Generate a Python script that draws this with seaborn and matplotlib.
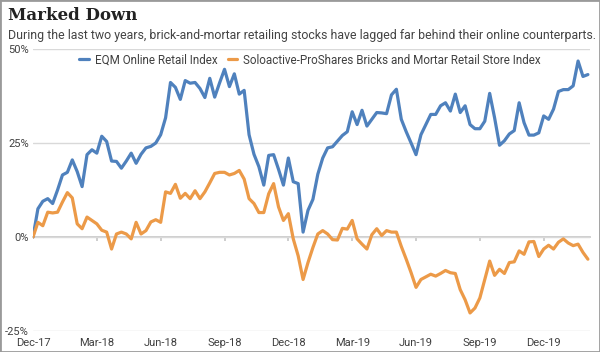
import pandas as pd
import matplotlib
matplotlib.use("Agg")
import matplotlib.pyplot as plt
import seaborn as sns
from matplotlib.patches import Rectangle

# weekly closes, % change since the end of Dec-17
dates = pd.date_range("2017-12-29", periods=114, freq="W-FRI")

online = [
    0, 7.5, 9.5, 10.2, 8.9, 12.5, 16.5, 17.2, 20.5, 17.4,
    13.4, 21.9, 23.2, 22.3, 26.8, 25.4, 20.2, 20.1, 18.3, 20.2,
    22.3, 19.6, 22.0, 23.7, 24.1, 25.0, 27.2, 31.7, 41.1, 39.8,
    36.6, 41.6, 40.9, 41.1, 39.5, 37.1, 42.2, 37.2, 41.0, 44.6,
    40.0, 43.4, 38.0, 39.0, 27.2, 22.0, 18.7, 13.8, 21.7, 21.9,
    18.0, 13.8, 21.0, 14.7, 14.2, 1.3, 7.1, 10.0, 16.7, 21.0,
    23.7, 24.0, 25.5, 27.0, 28.0, 33.3, 29.9, 33.7, 29.5, 31.3,
    33.1, 33.0, 32.8, 37.8, 39.3, 31.3, 28.0, 25.0, 21.9, 27.2,
    29.9, 32.6, 32.6, 34.9, 35.7, 33.5, 38.0, 33.1, 34.9, 29.9,
    28.8, 28.8, 30.8, 38.2, 31.7, 24.4, 25.6, 27.4, 28.3, 35.7,
    30.4, 27.1, 27.1, 27.7, 32.2, 31.3, 34.0, 38.7, 39.2, 39.2,
    40.2, 46.8, 42.7, 43.2,
]

bricks = [
    0, 3.9, 3.0, 6.6, 6.4, 6.6, 9.3, 11.8, 10.4, 3.5,
    2.2, 5.3, 4.4, 3.5, 1.8, 1.3, -3.2, 0.8, 1.3, 0.8,
    -0.5, 3.9, 0.8, 1.7, 4.0, 4.6, 3.9, 12.0, 11.6, 14.0,
    10.3, 11.6, 10.2, 12.3, 10.2, 12.0, 14.4, 16.9, 17.2, 17.2,
    16.5, 16.9, 17.7, 15.4, 10.2, 8.9, 6.5, 6.5, 11.5, 14.2,
    8.0, 4.4, 6.2, -0.5, -5.0, -11.3, -6.8, -2.8, 0.8, 1.7,
    0.8, -0.7, -0.8, 2.3, 2.1, 4.4, -0.5, -1.9, -3.2, 0.6,
    2.2, 0.4, 1.7, 1.3, 1.3, -2.5, -5.9, -9.5, -13.4, -11.3,
    -10.6, -9.9, -10.4, -9.7, -8.9, -9.5, -9.7, -14.0, -16.7, -20.2,
    -18.9, -16.2, -11.3, -6.4, -10.2, -8.6, -9.7, -6.8, -6.6, -3.7,
    -4.6, -1.3, -1.2, -5.2, -3.2, -2.2, -3.2, -1.4, -0.5, -1.6,
    -2.3, -1.9, -4.1, -5.9,
]

series_names = [
    "EQM Online Retail Index",
    "Soloactive-ProShares Bricks and Mortar Retail Store Index",
]
y_ticks = [-25, 0, 25, 50]
y_labels = ["-25%", "0%", "25%", "50%"]
tick_dates = dates[::13]
x_labels = [d.strftime("%b-%y") for d in tick_dates]

title = "Marked Down"
subtitle = ("During the last two years, brick-and-mortar retailing stocks "
            "have lagged far behind their online counterparts.")

df = pd.DataFrame({
    "date": list(dates) * 2,
    "value": online + bricks,
    "series": [series_names[0]] * len(online) + [series_names[1]] * len(bricks),
})

sns.set_theme(style="white")
plt.rcParams["font.family"] = ["Roboto", "DejaVu Sans"]

W, H = 600, 352
fig = plt.figure(figsize=(W / 100, H / 100), dpi=100)
ax = fig.add_axes([33 / W, 1 - 331 / H, 557 / W, 282 / H])

sns.lineplot(
    data=df, x="date", y="value", hue="series",
    palette=["#4f81bd", "#ec9a48"], linewidth=2.3, ax=ax,
)

ax.set_ylim(-25, 50)
ax.set_xlim(dates[0], dates[-1] + pd.Timedelta(days=3))
ax.set_yticks(y_ticks)
ax.set_yticklabels(y_labels)
ax.set_xticks(tick_dates)
ax.set_xticklabels(x_labels)
ax.set_xlabel("")
ax.set_ylabel("")
for s in ax.spines.values():
    s.set_visible(False)
ax.grid(axis="y", color="#d9d9d9", lw=1)
ax.grid(axis="x", visible=False)
ax.tick_params(length=0, labelsize=8, colors="#404040")
ax.tick_params(axis="y", pad=3)
ax.tick_params(axis="x", pad=5)

# zero line with small quarterly ticks
zero = ax.secondary_xaxis((0 - y_ticks[0]) / (y_ticks[-1] - y_ticks[0]))
zero.set_xticks(tick_dates[1:])
zero.xaxis.set_ticks_position("bottom")
zero.tick_params(direction="out", length=3, color="#c8c8c8",
                 labelbottom=False, labeltop=False)
for s in zero.spines.values():
    s.set_color("#c8c8c8")

ax.legend(
    loc="center", bbox_to_anchor=(310 / W, 1 - 60 / H),
    bbox_transform=fig.transFigure, ncol=2, frameon=False,
    handlelength=0.8, handletextpad=0.5, columnspacing=0.9,
    fontsize=8.4, labelcolor="#404040",
)

fig.text(8 / W, 1 - 16 / H, title, fontsize=12, fontweight="bold",
         family="DejaVu Serif", color="#222222", va="center")
fig.text(8 / W, 1 - 35 / H, subtitle, fontsize=8.9, color="#444444",
         va="center")

fig.patches.append(Rectangle((0, 0), 1, 1, transform=fig.transFigure,
                             fill=False, ec="#9a9a9a", lw=2))

fig.savefig("out.png", dpi=100)
